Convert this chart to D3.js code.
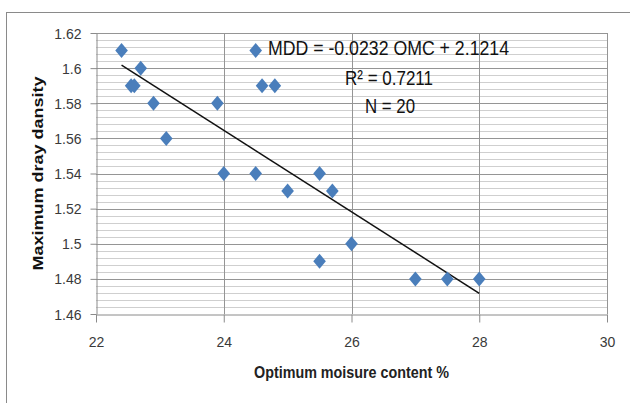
<!DOCTYPE html>
<html>
<head>
<meta charset="utf-8">
<script src="https://cdn.jsdelivr.net/npm/d3@7/dist/d3.min.js"></script>
<style>
  html, body { margin: 0; padding: 0; background: #fff; }
  svg { display: block; }
</style>
</head>
<body>
<svg id="chart" width="630" height="403"></svg>
<script>
// Optimum moisture content (%) vs maximum dry density
const omc = [22.4, 22.55, 22.6, 22.7, 22.9, 23.1, 23.9, 24.0, 24.5, 24.5,
             24.6, 24.8, 25.0, 25.5, 25.7, 25.5, 26.0, 27.0, 27.5, 28.0];
const mdd = [1.61, 1.59, 1.59, 1.60, 1.58, 1.56, 1.58, 1.54, 1.61, 1.54,
             1.59, 1.59, 1.53, 1.54, 1.53, 1.49, 1.50, 1.48, 1.48, 1.48];
const xTicks = [22, 24, 26, 28, 30];
const yTicks = [1.46, 1.48, 1.5, 1.52, 1.54, 1.56, 1.58, 1.6, 1.62];
const slope = -0.0232;
const intercept = 2.1214;
const rSquared = "0.7211";
const nCount = 20;

const svg = d3.select("#chart");
const plotLeft = 96, plotRight = 607, plotTop = 33, plotBottom = 314;

const x = d3.scaleLinear().domain([22, 30]).range([plotLeft, plotRight]);
const y = d3.scaleLinear().domain([1.46, 1.62]).range([plotBottom, plotTop]);

// chart frame
svg.append("rect")
  .attr("x", 6.5).attr("y", 12.5)
  .attr("width", 700).attr("height", 500)
  .attr("fill", "#fff").attr("stroke", "#8a8a8a").attr("stroke-width", 1);

// minor horizontal gridlines
const minor = d3.range(0, 41).map(i => 1.46 + i * 0.004)
  .filter(v => Math.abs(((v - 1.46) / 0.02) - Math.round((v - 1.46) / 0.02)) > 1e-6);
svg.append("g").selectAll("line").data(minor).join("line")
  .attr("x1", plotLeft).attr("x2", plotRight)
  .attr("y1", d => Math.round(y(d)) + 0.5).attr("y2", d => Math.round(y(d)) + 0.5)
  .attr("stroke", "#cfcfcf").attr("stroke-width", 1);

// major gridlines
svg.append("g").selectAll("line").data(yTicks.slice(1)).join("line")
  .attr("x1", plotLeft).attr("x2", plotRight)
  .attr("y1", d => Math.round(y(d)) + 0.5).attr("y2", d => Math.round(y(d)) + 0.5)
  .attr("stroke", "#959595").attr("stroke-width", 1);
svg.append("g").selectAll("line").data(xTicks.slice(1)).join("line")
  .attr("y1", plotTop).attr("y2", plotBottom)
  .attr("x1", d => Math.round(x(d)) + 0.5).attr("x2", d => Math.round(x(d)) + 0.5)
  .attr("stroke", "#959595").attr("stroke-width", 1);

// axes
const yAxis = svg.append("g")
  .attr("transform", `translate(${plotLeft + 0.5},0)`)
  .call(d3.axisLeft(y).tickValues(yTicks).tickFormat(d3.format("")).tickSize(6).tickSizeOuter(0).tickPadding(9));
const xAxis = svg.append("g")
  .attr("transform", `translate(0,${plotBottom + 0.5})`)
  .call(d3.axisBottom(x).tickValues(xTicks).tickSize(8).tickSizeOuter(0).tickPadding(15));
[yAxis, xAxis].forEach(g => {
  g.select(".domain").attr("stroke", "#8a8a8a");
  g.selectAll(".tick line").attr("stroke", "#8a8a8a");
  g.selectAll(".tick text")
    .attr("fill", "#3a3a3a")
    .style("font-family", "'Liberation Sans', Arial, sans-serif")
    .style("font-size", "14px");
});
yAxis.selectAll(".tick text").attr("dy", "0.36em");

// trendline from the fitted equation
const xr = d3.extent(omc);
svg.append("line")
  .attr("x1", x(xr[0])).attr("y1", y(slope * xr[0] + intercept))
  .attr("x2", x(xr[1])).attr("y2", y(slope * xr[1] + intercept))
  .attr("stroke", "#111").attr("stroke-width", 1.5);

// diamond markers
const diamond = "M0,-7.5L6.3,0L0,7.5L-6.3,0Z";
svg.append("g").selectAll("path").data(omc.map((v, i) => [v, mdd[i]])).join("path")
  .attr("d", diamond)
  .attr("transform", d => `translate(${x(d[0])},${y(d[1])})`)
  .attr("fill", "#4a7ebb");

// regression annotation
const ann = svg.append("g")
  .attr("fill", "#111")
  .style("font-family", "'Liberation Sans Narrow', 'Liberation Sans', Arial, sans-serif")
  .style("font-size", "20px")
  .style("white-space", "pre");
ann.append("text").attr("x", 268).attr("y", 55)
  .attr("textLength", 241).attr("lengthAdjust", "spacingAndGlyphs")
  .text(`MDD  = ${slope} OMC + ${intercept}`);
ann.append("text").attr("x", 345).attr("y", 85)
  .attr("textLength", 88).attr("lengthAdjust", "spacingAndGlyphs")
  .text(`R\u00B2 = ${rSquared}`);
ann.append("text").attr("x", 365).attr("y", 113)
  .attr("textLength", 50).attr("lengthAdjust", "spacingAndGlyphs")
  .text(`N = ${nCount}`);

// axis titles
svg.append("text")
  .attr("transform", `translate(43,${(plotTop + plotBottom) / 2}) rotate(-90)`)
  .attr("text-anchor", "middle")
  .attr("textLength", 194).attr("lengthAdjust", "spacingAndGlyphs")
  .style("font-family", "'Liberation Sans', Arial, sans-serif")
  .style("font-weight", "bold").style("font-size", "15px")
  .attr("fill", "#111")
  .text("Maximum dray dansity");
svg.append("text")
  .attr("x", (plotLeft + plotRight) / 2).attr("y", 378)
  .attr("text-anchor", "middle")
  .attr("textLength", 195).attr("lengthAdjust", "spacingAndGlyphs")
  .style("font-family", "'Liberation Sans Narrow', 'Liberation Sans', Arial, sans-serif")
  .style("font-weight", "bold").style("font-size", "16px")
  .attr("fill", "#222")
  .text("Optimum moisure content %");
</script>
</body>
</html>
